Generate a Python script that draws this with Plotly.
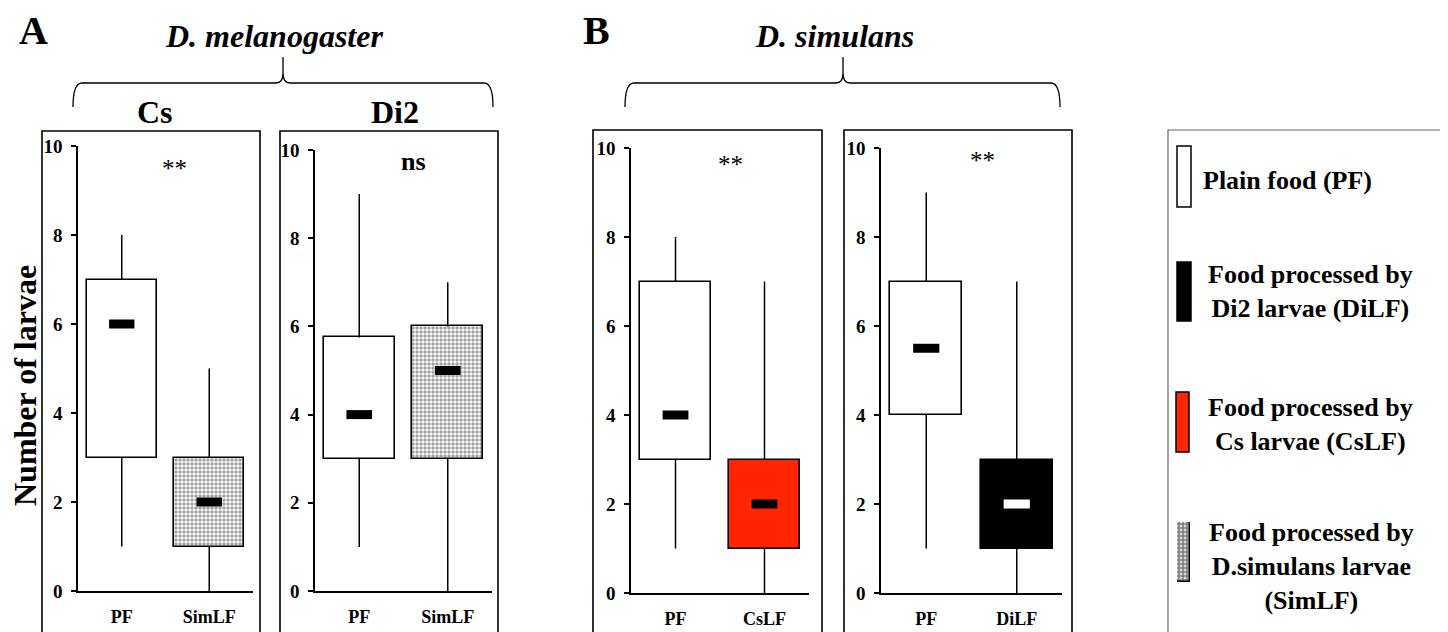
import plotly.graph_objects as go

SERIF = "Liberation Serif"

# ---------------- data ----------------
cs_cats = ["PF", "SimLF"]
cs_low = [1, 0]
cs_q1 = [3, 1]
cs_med = [6, 2]
cs_q3 = [7, 3]
cs_high = [8, 5]

di2_cats = ["PF", "SimLF"]
di2_low = [1, 0]
di2_q1 = [3, 3]
di2_med = [4, 5]
di2_q3 = [5.75, 6]
di2_high = [9, 7]

simcs_cats = ["PF", "CsLF"]
simcs_low = [1, 0]
simcs_q1 = [3, 1]
simcs_med = [4, 2]
simcs_q3 = [7, 3]
simcs_high = [8, 7]

simdi_cats = ["PF", "DiLF"]
simdi_low = [1, 0]
simdi_q1 = [4, 1]
simdi_med = [5.5, 2]
simdi_q3 = [7, 3]
simdi_high = [9, 7]

y_ticks = [0, 2, 4, 6, 8, 10]
signif = ["**", "ns", "**", "**"]
strain_titles = ["Cs", "Di2"]
species_titles = ["D. melanogaster", "D. simulans"]
legend_labels = ["Plain food (PF)",
                 "Food processed by<br>Di2 larvae (DiLF)",
                 "Food processed by<br>Cs larvae (CsLF)",
                 "Food processed by<br>D.simulans larvae<br>(SimLF)"]

RED = "#ff2500"

# page body has an 8px margin: the figure is drawn 8px in from the window edge
OFF = 8
W, H = 1448 - OFF, 632 - OFF


# ---------------- helpers (window pixel -> paper) ----------------
def px(x):
    return (x - OFF) / W


def py(y):
    return 1 - (y - OFF) / H


panels = [
    dict(cats=cs_cats, low=cs_low, q1=cs_q1, med=cs_med, q3=cs_q3, high=cs_high,
         fill=["white", "white"], pat=["", "."], medc=["black", "black"]),
    dict(cats=di2_cats, low=di2_low, q1=di2_q1, med=di2_med, q3=di2_q3, high=di2_high,
         fill=["white", "white"], pat=["", "."], medc=["black", "black"]),
    dict(cats=simcs_cats, low=simcs_low, q1=simcs_q1, med=simcs_med, q3=simcs_q3, high=simcs_high,
         fill=["white", RED], pat=["", ""], medc=["black", "black"]),
    dict(cats=simdi_cats, low=simdi_low, q1=simdi_q1, med=simdi_med, q3=simdi_q3, high=simdi_high,
         fill=["white", "black"], pat=["", ""], medc=["black", "white"]),
]

# layout geometry in window pixels
xdom_px = [(78, 253), (315, 492), (631, 809), (881, 1062)]
ydom_px = [(591, 146), (591, 150), (593, 148), (593, 148)]
frames_px = [(42, 260, 131), (280, 498, 131), (593, 822, 130), (844, 1072, 130)]
signif_px = [(174, 169), (413, 161), (730, 164), (982, 160)]

fig = go.Figure()
layout = dict(template="none", width=W, height=H, autosize=False,
              margin=dict(l=0, r=0, t=0, b=0, pad=0, autoexpand=False),
              paper_bgcolor="white", plot_bgcolor="rgba(0,0,0,0)",
              showlegend=False, bargap=0)

half_med = 0.145
for i, p in enumerate(panels):
    n = i + 1
    xa = "x" if n == 1 else f"x{n}"
    ya = "y" if n == 1 else f"y{n}"
    xs = list(range(len(p["cats"])))
    heights = [b - a for a, b in zip(p["q1"], p["q3"])]
    fig.add_trace(go.Bar(
        x=xs, y=heights, base=p["q1"], width=0.8,
        marker=dict(color=p["fill"], line=dict(color="black", width=1.6),
                    pattern=dict(shape=p["pat"], fgcolor="black", fillmode="overlay",
                                 size=4, solidity=0.6)),
        xaxis=xa, yaxis=ya, hoverinfo="skip"))
    wx, wy = [], []
    for k in xs:
        wx += [k, k, None, k, k, None]
        wy += [p["low"][k], p["q1"][k], None, p["q3"][k], p["high"][k], None]
    fig.add_trace(go.Scatter(x=wx, y=wy, mode="lines",
                             line=dict(color="black", width=1.5),
                             xaxis=xa, yaxis=ya, hoverinfo="skip"))
    for k in xs:
        fig.add_trace(go.Scatter(x=[k - half_med, k + half_med], y=[p["med"][k], p["med"][k]],
                                 mode="lines", line=dict(color=p["medc"][k], width=9),
                                 xaxis=xa, yaxis=ya, hoverinfo="skip"))
    sfx = "" if n == 1 else str(n)
    layout["xaxis" + sfx] = dict(
        domain=[px(xdom_px[i][0]), px(xdom_px[i][1])], range=[-0.5, 1.5],
        anchor=ya, showline=True, linecolor="black", linewidth=1.5, automargin=False,
        ticks="", tickvals=xs, ticktext=p["cats"], ticklabelstandoff=9,
        tickfont=dict(family=SERIF, size=18, color="black", weight="bold"),
        showgrid=False, zeroline=False, fixedrange=True)
    layout["yaxis" + sfx] = dict(
        domain=[py(ydom_px[i][0]), py(ydom_px[i][1])], range=[0, 10],
        anchor=xa, showline=True, linecolor="black", linewidth=1.5, automargin=False,
        ticks="outside", ticklen=5, tickwidth=1.5, tickcolor="black",
        tickvals=y_ticks, ticklabelstandoff=5,
        tickfont=dict(family=SERIF, size=19, color="black", weight="bold"),
        showgrid=False, zeroline=False, fixedrange=True)

# legend pattern swatch on a hidden axis pair
fig.add_trace(go.Bar(x=[0.5], y=[1], base=[0], width=1,
                     marker=dict(color="white", line=dict(color="black", width=1.5),
                                 pattern=dict(shape=".", fgcolor="black", fillmode="overlay",
                                              size=4, solidity=0.75)),
                     xaxis="x5", yaxis="y5", hoverinfo="skip"))
layout["xaxis5"] = dict(domain=[px(1177), px(1190)], range=[0, 1], visible=False, anchor="y5",
                        fixedrange=True, automargin=False)
layout["yaxis5"] = dict(domain=[py(582), py(522)], range=[0, 1], visible=False, anchor="x5",
                        fixedrange=True, automargin=False)

shapes = []
# panel frames
for (x0, x1, top) in frames_px:
    shapes.append(dict(type="rect", xref="paper", yref="paper",
                       x0=px(x0), x1=px(x1), y0=py(top), y1=py(660),
                       line=dict(color="black", width=1.6), fillcolor="rgba(0,0,0,0)",
                       layer="below"))


# curly braces
def brace(x0, x1, xc, ybot=107, yh=83, ytop=57):
    pts = [
        f"M {px(x0)},{py(ybot)}",
        f"Q {px(x0)},{py(yh)} {px(x0 + 9)},{py(yh)}",
        f"L {px(xc - 7)},{py(yh)}",
        f"Q {px(xc)},{py(yh)} {px(xc)},{py(yh - 10)}",
        f"L {px(xc)},{py(ytop)}",
        f"M {px(xc)},{py(yh - 10)}",
        f"Q {px(xc)},{py(yh)} {px(xc + 7)},{py(yh)}",
        f"L {px(x1 - 9)},{py(yh)}",
        f"Q {px(x1)},{py(yh)} {px(x1)},{py(ybot)}",
    ]
    return dict(type="path", xref="paper", yref="paper", path=" ".join(pts),
                line=dict(color="black", width=1.3))


shapes.append(brace(73, 493, 283))
shapes.append(brace(625, 1060, 843))

# legend box
shapes.append(dict(type="rect", xref="paper", yref="paper",
                   x0=px(1168), x1=px(1470), y0=py(130), y1=py(660),
                   line=dict(color="#666666", width=1.2), fillcolor="rgba(0,0,0,0)"))
# legend swatches (non-pattern)
sw = [((1177, 1191), (146, 207), "white"),
      ((1177, 1191), (262, 321), "black"),
      ((1176, 1189), (392, 452), RED)]
for (xx, yy, c) in sw:
    shapes.append(dict(type="rect", xref="paper", yref="paper",
                       x0=px(xx[0]), x1=px(xx[1]), y0=py(yy[1]), y1=py(yy[0]),
                       line=dict(color="black", width=1.5), fillcolor=c))

annotations = []


def ann(text, x, y, size, xanchor="center", **kw):
    d = dict(text=text, x=px(x), y=py(y), xref="paper", yref="paper",
             showarrow=False, xanchor=xanchor, yanchor="middle",
             font=dict(family=SERIF, size=size, color="black"))
    d.update(kw)
    annotations.append(d)


ann("<b>A</b>", 33, 31, 40)
ann("<b>B</b>", 596, 31, 40)
ann(f"<b><i>{species_titles[0]}</i></b>", 274, 36, 32)
ann(f"<b><i>{species_titles[1]}</i></b>", 835, 36, 32)
ann(f"<b>{strain_titles[0]}</b>", 155, 112, 32)
ann(f"<b>{strain_titles[1]}</b>", 395, 112, 32)
for s, (x, y) in zip(signif, signif_px):
    if s == "ns":
        ann(f"<b>{s}</b>", x, y, 26)
    else:
        ann(s, x, y, 25)
ann("<b>Number of larvae</b>", 25, 386, 32, textangle=-90)

leg_pos = [(1290, 180, "left", 1201), (1310, 292, "center", None),
           (1310, 424, "center", None), (1311, 566, "center", None)]
for lab, (xc, yc, al, xl) in zip(legend_labels, leg_pos):
    if al == "left":
        ann(f"<b>{lab}</b>", xl, yc, 26, xanchor="left")
    else:
        ann(f"<b>{lab}</b>", xc, yc, 26, align="center")

layout["shapes"] = shapes
layout["annotations"] = annotations
fig.update_layout(**layout)
fig.write_html("out.html")
